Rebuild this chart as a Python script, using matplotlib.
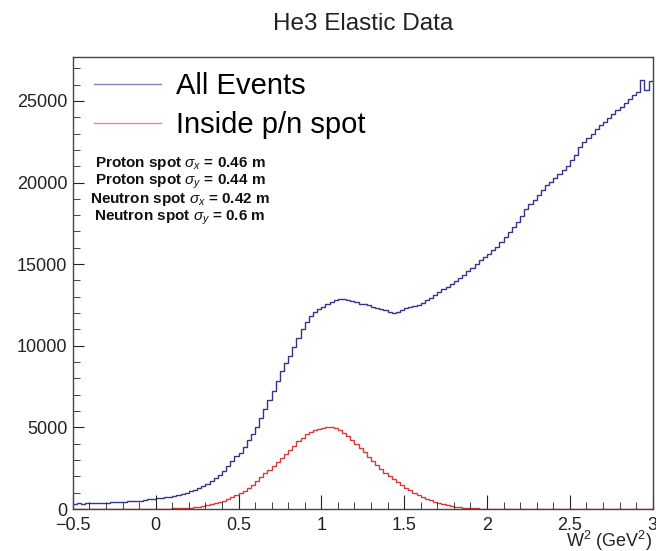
import numpy as np
import matplotlib
matplotlib.use('Agg')
import matplotlib.pyplot as plt
from matplotlib.ticker import MultipleLocator

plt.rcParams['font.family'] = ['Liberation Sans', 'DejaVu Sans']
plt.rcParams['mathtext.fontset'] = 'custom'
plt.rcParams['mathtext.rm'] = 'Liberation Sans'
plt.rcParams['mathtext.it'] = 'Liberation Sans:italic'

# histogram range: 140 bins from -0.5 to 3 GeV^2
w2_min, w2_max, n_bins = -0.5, 3.0, 140

# all events (blue), read bin by bin from the picture
all_events = [
    340, 360, 330, 370, 360, 380, 370, 400, 390, 410,
    420, 440, 430, 470, 480, 500, 520, 560, 590, 630,
    660, 680, 720, 760, 810, 870, 920, 990, 1080, 1190,
    1300, 1420, 1560, 1740, 1920, 2110, 2350, 2620, 2930, 3250,
    3450, 3800, 4250, 4600, 5000, 5600, 6150, 6700, 7250, 7850,
    8450, 8950, 9350, 9950, 10500, 11000, 11450, 11800, 12050, 12250,
    12400, 12550, 12700, 12780, 12850, 12870, 12800, 12720, 12680, 12580,
    12540, 12480, 12400, 12340, 12250, 12200, 12080, 12000, 12100, 12200,
    12300, 12380, 12450, 12520, 12650, 12780, 12900, 13100, 13300, 13450,
    13620, 13800, 13950, 14150, 14350, 14580, 14780, 15000, 15230, 15450,
    15650, 15850, 16080, 16350, 16650, 16950, 17280, 17600, 17950, 18350,
    18700, 18950, 19250, 19550, 19830, 20050, 20250, 20500, 20750, 21000,
    21350, 21700, 22150, 22450, 22750, 23000, 23250, 23500, 23700, 23950,
    24200, 24450, 24650, 24850, 25100, 25350, 25550, 26300, 25650, 26200,
]

# events inside the p/n spot (red)
inside_spot = [
    0, 0, 0, 0, 0, 0, 0, 0, 0, 0,
    0, 0, 0, 5, 5, 5, 10, 10, 10, 12,
    15, 20, 25, 35, 45, 55, 65, 80, 95, 120,
    150, 185, 230, 285, 350, 430, 520, 620, 740, 860,
    990, 1140, 1310, 1500, 1720, 1950, 2200, 2400, 2620, 2880,
    3120, 3350, 3600, 3880, 4150, 4380, 4580, 4730, 4850, 4920,
    4990, 5040, 5030, 4960, 4850, 4680, 4480, 4250, 4000, 3740,
    3480, 3220, 2960, 2700, 2450, 2240, 2050, 1860, 1670, 1490,
    1320, 1150, 1000, 870, 750, 640, 540, 450, 370, 300,
    245, 195, 155, 120, 95, 70, 55, 40, 30, 22,
    16, 12, 9, 7, 5, 4, 3, 2, 2, 1,
    0, 0, 0, 0, 0, 0, 0, 0, 0, 0,
    0, 0, 0, 0, 0, 0, 0, 0, 0, 0,
    0, 0, 0, 0, 0, 0, 0, 0, 0, 0,
]

spot_text = [
    r'Proton spot $\sigma_{x}$ = 0.46 m',
    r'Proton spot $\sigma_{y}$ = 0.44 m',
    r'Neutron spot $\sigma_{x}$ = 0.42 m',
    r'Neutron spot $\sigma_{y}$ = 0.6 m',
]

edges = np.linspace(w2_min, w2_max, n_bins + 1)

fig = plt.figure(figsize=(6.56, 5.51), dpi=100)
ax = fig.add_axes([0.111, 0.076, 0.884, 0.821])

ax.stairs(all_events, edges, baseline=None, color='#34348a', lw=1.0, label='All Events')
ax.stairs(inside_spot, edges, baseline=None, color='#d83a3a', lw=1.0, label='Inside p/n spot')

ax.set_xlim(w2_min, w2_max)
ax.set_ylim(0, 27700)
ax.xaxis.set_major_locator(MultipleLocator(0.5))
ax.xaxis.set_minor_locator(MultipleLocator(0.1))
ax.yaxis.set_major_locator(MultipleLocator(5000))
ax.yaxis.set_minor_locator(MultipleLocator(1000))
ax.set_xticks(np.arange(-0.5, 3.01, 0.5))
ax.set_xticklabels(['\u22120.5', '0', '0.5', '1', '1.5', '2', '2.5', '3'])
ax.tick_params(axis='both', which='both', direction='in', labelsize=13, colors='#222222')
ax.tick_params(axis='x', which='major', length=10, pad=6)
ax.tick_params(axis='x', which='minor', length=5)
ax.tick_params(axis='y', which='major', length=8, pad=4)
ax.tick_params(axis='y', which='minor', length=5)
for s in ax.spines.values():
    s.set_color('#444444')
    s.set_linewidth(1.0)

fig.text(0.554, 0.957, 'He3 Elastic Data', ha='center', va='center', fontsize=17.5, color='#222222')
fig.text(0.995, 0.018, r'W$^{2}$ (GeV$^{2}$)', ha='right', va='center', fontsize=13, color='#222222')

leg = ax.legend(loc='upper left', bbox_to_anchor=(0.002, 1.012), frameon=False, fontsize=21,
                handlelength=2.3, handletextpad=0.5, labelspacing=0.39, borderpad=0.2)
for line in leg.get_lines():
    line.set_alpha(0.6)

# spot sizes, one line each, evenly spaced baselines
for k, t in enumerate(spot_text):
    ax.text(0.185, 0.757 - k * 0.0398, t, transform=ax.transAxes, ha='center', va='baseline',
            fontsize=11, fontweight='bold', color='#111111')

fig.savefig('out.png', dpi=100)
